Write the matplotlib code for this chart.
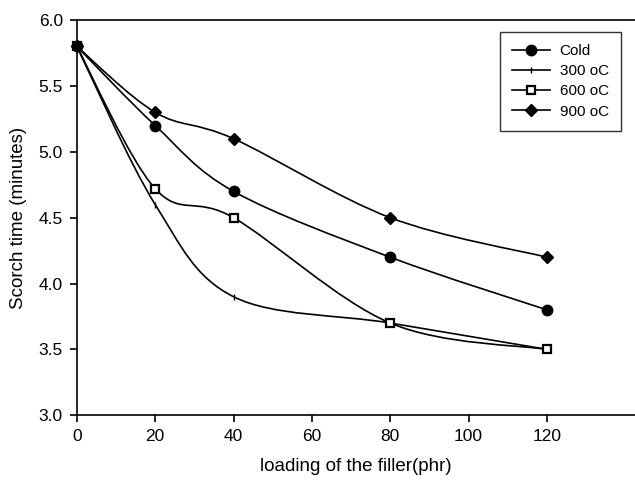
import matplotlib.pyplot as plt
import numpy as np
from matplotlib.path import Path
from matplotlib.patches import PathPatch
from matplotlib.lines import Line2D

plt.rcParams['font.family'] = ['Liberation Sans', 'DejaVu Sans']

# data
loading = [0, 20, 40, 80, 120]
cold = [5.8, 5.2, 4.7, 4.2, 3.8]
t300 = [5.8, 4.6, 3.9, 3.7, 3.5]
t600 = [5.8, 4.72, 4.5, 3.7, 3.5]
t900 = [5.8, 5.3, 5.1, 4.5, 4.2]
labels = ["Cold", "300 oC", "600 oC", "900 oC"]


def smooth_path(x, y):
    # Excel-like smoothed line: cubic Bezier through each point
    pts = np.column_stack([x, y]).astype(float)
    n = len(pts)
    verts = [pts[0]]
    codes = [Path.MOVETO]
    for i in range(n - 1):
        p0 = pts[i - 1] if i > 0 else pts[i]
        p1 = pts[i]
        p2 = pts[i + 1]
        p3 = pts[i + 2] if i + 2 < n else pts[i + 1]
        c1 = p1 + (p2 - p0) / 6
        c2 = p2 - (p3 - p1) / 6
        verts += [c1, c2, p2]
        codes += [Path.CURVE4] * 3
    return Path(verts, codes)


fig = plt.figure(figsize=(6.35, 4.8), dpi=100)
ax = fig.add_axes([0.121, 0.135, 0.879, 0.823])

styles = [
    dict(marker='o', markersize=7.5, markerfacecolor='black'),
    dict(marker='|', markersize=4, markeredgewidth=1),
    dict(marker='s', markersize=5.5, markerfacecolor='white', markeredgewidth=1.6),
    dict(marker='D', markersize=6.5, markerfacecolor='black'),
]

handles = []
for ys, lab, st in zip([cold, t300, t600, t900], labels, styles):
    ax.add_patch(PathPatch(smooth_path(loading, ys), facecolor='none',
                           edgecolor='black', linewidth=1.2, zorder=2))
    ax.plot(loading, ys, linestyle='none', color='black',
            markeredgecolor='black', zorder=3, clip_on=False, **st)
    handles.append(Line2D([], [], color='black', linewidth=1.2,
                          markeredgecolor='black', **st))

ax.set_xlim(0, 142.5)
ax.set_ylim(3.0, 6.0)
ax.set_xticks([0, 20, 40, 60, 80, 100, 120])
ax.set_yticks(np.arange(3.0, 6.01, 0.5))
ax.yaxis.set_major_formatter(plt.FormatStrFormatter('%.1f'))
ax.spines['right'].set_visible(False)
for s in ['left', 'bottom', 'top']:
    ax.spines[s].set_linewidth(1.2)
ax.tick_params(direction='out', length=5, width=1.2, labelsize=12.5, pad=5)

ax.set_xlabel("loading of the filler(phr)", fontsize=13.5, labelpad=10)
ax.set_ylabel("Scorch time (minutes)", fontsize=13.5, labelpad=8)

leg = ax.legend(handles, labels, loc='upper left', bbox_to_anchor=(0.758, 0.970),
                borderaxespad=0, fontsize=11, frameon=True, fancybox=False,
                handlelength=2.5, borderpad=0.8, labelspacing=0.4, handletextpad=0.6)
leg.get_frame().set_edgecolor('black')
leg.get_frame().set_linewidth(1.0)

fig.savefig("out.png", dpi=100)
